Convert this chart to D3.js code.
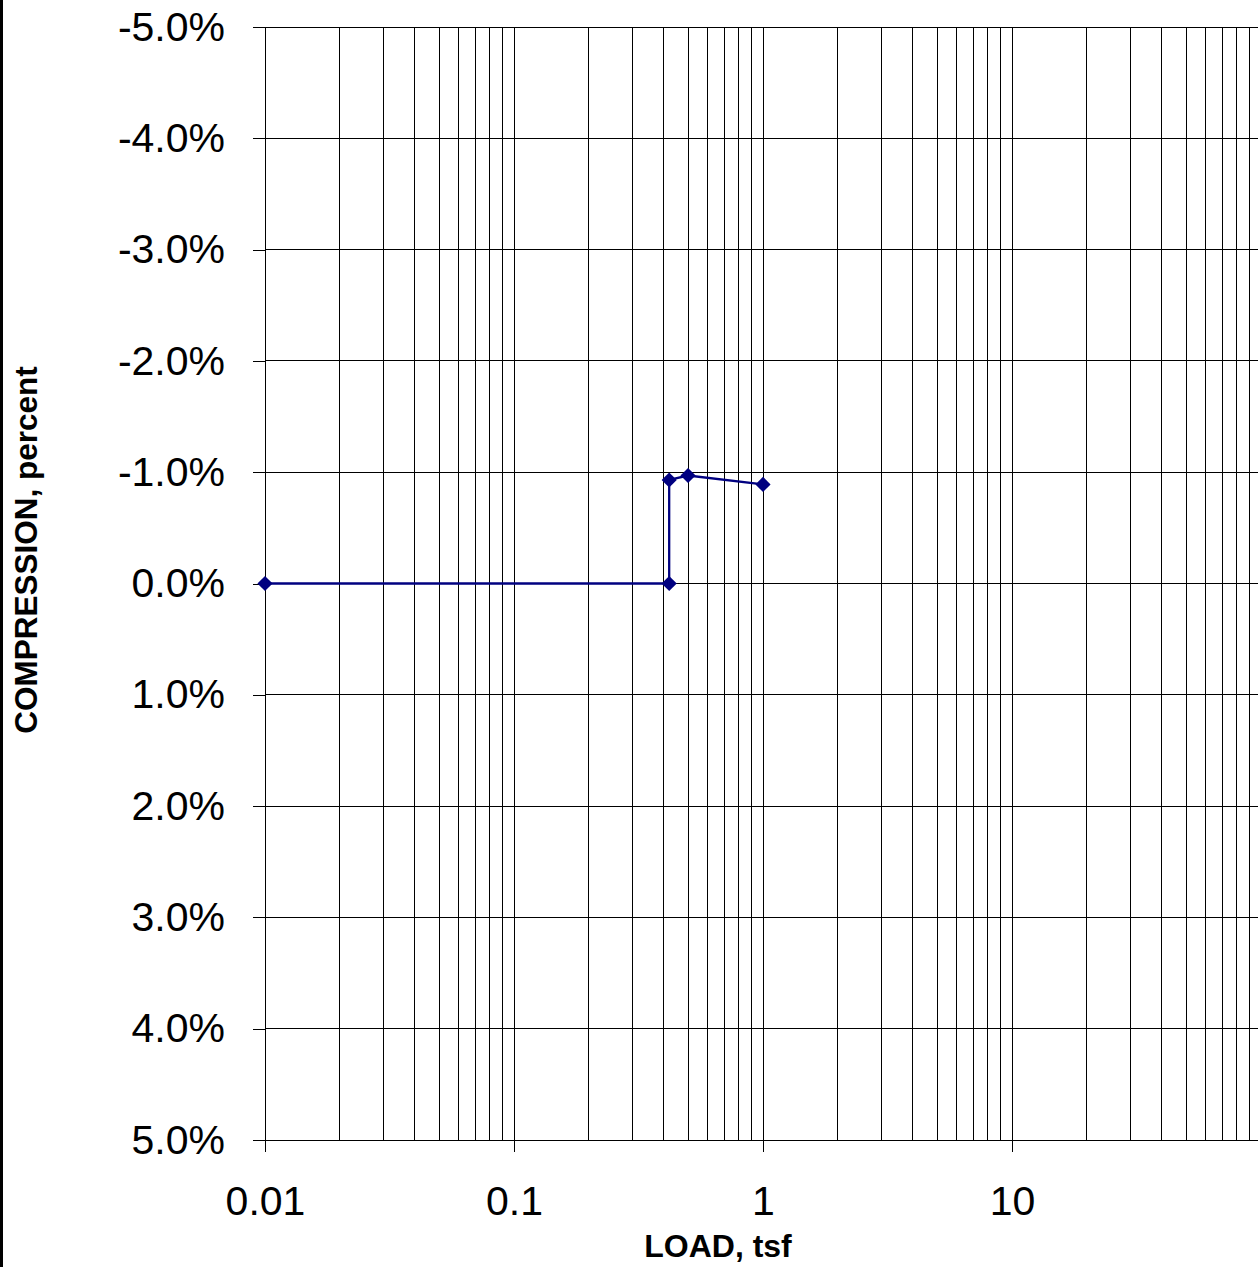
<!DOCTYPE html>
<html>
<head>
<meta charset="utf-8">
<script src="https://cdn.jsdelivr.net/npm/d3@7"></script>
<style>
  html, body { margin: 0; padding: 0; background: #fff; }
  svg { display: block; }
  text { font-family: "Liberation Sans", Arial, sans-serif; fill: #000; }
</style>
</head>
<body>
<svg id="chart" width="1258" height="1267"></svg>
<script>
// ---- data ----
const loads = [0.01, 0.42, 0.42, 0.5, 1];            // LOAD, tsf
const compression = [0.0, 0.0, -0.93, -0.97, -0.89];  // COMPRESSION, percent
const xTickValues = [0.01, 0.1, 1, 10];
const xTickLabels = ["0.01", "0.1", "1", "10"];
const yTickValues = [-5, -4, -3, -2, -1, 0, 1, 2, 3, 4, 5];
const yTickLabels = ["-5.0%", "-4.0%", "-3.0%", "-2.0%", "-1.0%", "0.0%", "1.0%", "2.0%", "3.0%", "4.0%", "5.0%"];
const xTitle = "LOAD, tsf";
const yTitle = "COMPRESSION, percent";

// ---- layout ----
const W = 1258, H = 1267;
const pLeft = 265, pRight = 1261, pTop = 27, pBottom = 1140;
const svg = d3.select("#chart");

const x = d3.scaleLog().domain([0.01, 100]).range([pLeft, pRight]);
const y = d3.scaleLinear().domain([-5, 5]).range([pTop, pBottom]);

// outer left border
svg.append("rect").attr("x", 0).attr("y", 0).attr("width", 3).attr("height", H).attr("fill", "#000");

// minor + major vertical gridlines
const minor = [];
for (let d = 0.01; d < 99; d *= 10) {
  for (let k = 1; k <= 9; k++) minor.push(+(d * k).toPrecision(3));
}
minor.push(100);
svg.append("g").selectAll("line").data(minor).join("line")
  .attr("x1", d => x(d)).attr("x2", d => x(d))
  .attr("y1", pTop).attr("y2", pBottom)
  .attr("stroke", "#000").attr("stroke-width", 1).attr("shape-rendering", "crispEdges");

// horizontal gridlines
svg.append("g").selectAll("line").data(yTickValues).join("line")
  .attr("x1", pLeft).attr("x2", pRight)
  .attr("y1", d => y(d)).attr("y2", d => y(d))
  .attr("stroke", "#000").attr("stroke-width", 1).attr("shape-rendering", "crispEdges");

// y axis
const yAxis = d3.axisLeft(y).tickValues(yTickValues)
  .tickFormat((d, i) => yTickLabels[i]).tickSize(12).tickPadding(28);
const gy = svg.append("g").attr("transform", `translate(${pLeft},0)`).call(yAxis);
gy.select(".domain").attr("stroke", "#000").attr("shape-rendering", "crispEdges");
gy.selectAll(".tick line").attr("stroke", "#000").attr("shape-rendering", "crispEdges");
gy.selectAll(".tick text").attr("font-size", 41).attr("font-family", "Liberation Sans, Arial, sans-serif").attr("fill", "#000");

// x axis
const xAxis = d3.axisBottom(x).tickValues(xTickValues)
  .tickFormat((d, i) => xTickLabels[i]).tickSize(12).tickPadding(34);
const gx = svg.append("g").attr("transform", `translate(0,${pBottom})`).call(xAxis);
gx.select(".domain").attr("stroke", "#000").attr("shape-rendering", "crispEdges");
gx.selectAll(".tick line").attr("stroke", "#000").attr("shape-rendering", "crispEdges");
gx.selectAll(".tick text").attr("font-size", 41).attr("font-family", "Liberation Sans, Arial, sans-serif").attr("fill", "#000");

// axis titles
svg.append("text").attr("x", 718).attr("y", 1257).attr("text-anchor", "middle")
  .attr("font-size", 32).attr("font-weight", "bold").text(xTitle);
svg.append("text").attr("transform", "translate(37,550) rotate(-90)").attr("text-anchor", "middle")
  .attr("font-size", 31.5).attr("font-weight", "bold").text(yTitle);

// series
const pts = loads.map((l, i) => [l, compression[i]]);
const line = d3.line().x(d => x(d[0])).y(d => y(d[1]));
svg.append("path").datum(pts).attr("d", line)
  .attr("fill", "none").attr("stroke", "#000080").attr("stroke-width", 2.3);
svg.append("g").selectAll("path").data(pts).join("path")
  .attr("d", d3.symbol().type(d3.symbolSquare).size(115))
  .attr("transform", d => `translate(${x(d[0])},${y(d[1])}) rotate(45)`)
  .attr("fill", "#000080");
</script>
</body>
</html>
